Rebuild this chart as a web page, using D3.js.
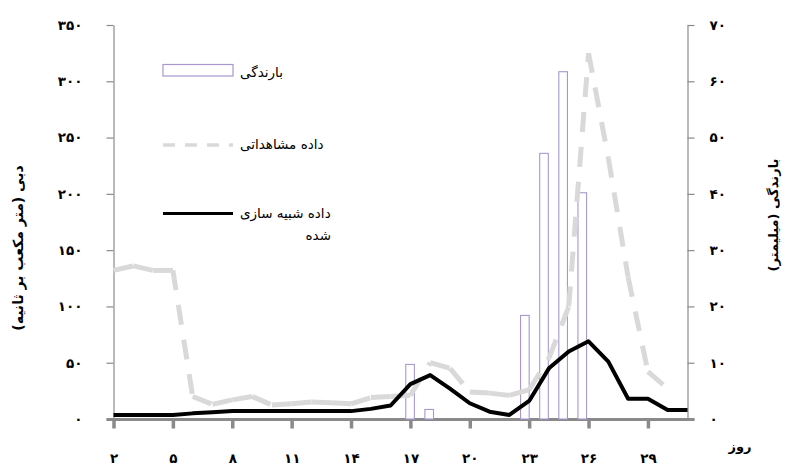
<!DOCTYPE html>
<html><head><meta charset="utf-8">
<script src="https://cdn.jsdelivr.net/npm/d3@7"></script>
<style>
html,body{margin:0;padding:0;background:#fff;}
svg{display:block;font-family:"DejaVu Sans",sans-serif;}
</style></head>
<body>
<script>
// ---- data ----
const days = d3.range(2, 32);                 // day 2 .. 31
const obsDays = d3.range(2, 31);              // observed: day 2 .. 30
const observed = [132,136,132,132,20,13,17,20,12.5,13.5,15,14.5,13.5,19,20,21,50,45,24,23,21,26,54,100,325,232,126,42,27];
const simulated = [3.6,3.6,3.6,3.6,5,6,7,7,7,7,7,7,7,9,12,31,39,27,14,6.5,3.6,16,45,60,69,51,18,18,8,8];
const rainDays = [17,18,23,24,25,26];
const rain = [9.7,1.7,18.4,47.2,61.7,40.2];
const xTicks = [2,5,8,11,14,17,20,23,26,29];
const leftTicks = [0,50,100,150,200,250,300,350];
const rightTicks = [0,10,20,30,40,50,60,70];
const legendLabels = ["بارندگی","داده مشاهداتی","داده شبیه سازی","شده"];
const leftTitle = "دبی (متر مکعب بر ثانیه)";
const rightTitle = "بارندگی (میلیمتر)";
const xTitle = "روز";

const fa = v => String(v).replace(/\d/g, d => "۰۱۲۳۴۵۶۷۸۹"[d]);

const W = 785, H = 470;
const svg = d3.select("body").append("svg").attr("width", W).attr("height", H);

const x = d3.scaleLinear().domain([2, 31]).range([113.5, 687.5]);
const xBand = d3.scaleBand().domain(days).range([113.5, 687.5]).paddingInner(0.55).paddingOuter(0.275);
const y = d3.scaleLinear().domain([0, 350]).range([419, 25]);
const yR = d3.scaleLinear().domain([0, 70]).range([419, 25]);

const axisColor = "#8a8a8a";

// left axis
const gl = svg.append("g").attr("transform", "translate(113.5,0)")
  .call(d3.axisLeft(y).tickValues(leftTicks).tickSize(7).tickSizeOuter(0).tickPadding(24).tickFormat(fa));
// right axis
const gr = svg.append("g").attr("transform", "translate(687.5,0)")
  .call(d3.axisRight(yR).tickValues(rightTicks).tickSize(7).tickSizeOuter(0).tickPadding(15).tickFormat(fa));
[gl, gr].forEach(g => {
  g.select(".domain").attr("stroke", axisColor).attr("stroke-width", 1.2);
  g.selectAll(".tick line").attr("stroke", axisColor).attr("stroke-width", 1.2);
  g.selectAll(".tick text").attr("fill", "#000").attr("font-size", 13.5).attr("font-weight", "bold")
    .attr("font-family", "DejaVu Sans").attr("letter-spacing", 3);
});

// bottom axis
const gx = svg.append("g").attr("transform", "translate(0,419.5)")
  .call(d3.axisBottom(x).tickValues(xTicks).tickSize(9).tickSizeOuter(0).tickPadding(25).tickFormat(fa));
gx.select(".domain").attr("stroke", axisColor).attr("stroke-width", 3)
  .attr("d", `M${x.range()[0] - 7},0H${x.range()[1] + 7}`);
gx.selectAll(".tick line").attr("stroke", axisColor).attr("stroke-width", 3.5);
gx.selectAll(".tick text").attr("fill", "#000").attr("font-size", 13.5).attr("font-weight", "bold")
  .attr("font-family", "DejaVu Sans").attr("letter-spacing", 3);

// rain bars
svg.append("g").selectAll("rect").data(rainDays.map((d, i) => ({d, v: rain[i]})))
  .join("rect")
  .attr("x", p => xBand(p.d)).attr("width", xBand.bandwidth())
  .attr("y", p => yR(p.v)).attr("height", p => yR(0) - yR(p.v))
  .attr("fill", "#fff").attr("stroke", "#a898cf").attr("stroke-width", 1.1);

// observed (dash pattern restarts at each vertex)
const obsPts = obsDays.map((d, i) => [x(d), y(observed[i])]);
const line = d3.line();
svg.append("g").selectAll("path").data(d3.pairs(obsPts)).join("path")
  .attr("d", p => line(p)).attr("fill", "none")
  .attr("stroke", "#d9d9d9").attr("stroke-width", 5)
  .attr("stroke-dasharray", "20,15").attr("stroke-linecap", "butt");

// simulated
svg.append("path").datum(days.map((d, i) => [x(d), y(simulated[i])]))
  .attr("d", line).attr("fill", "none").attr("stroke", "#000")
  .attr("stroke-width", 4).attr("stroke-linejoin", "round");

// legend
const lg = svg.append("g").attr("font-size", 13.5).attr("font-family", "DejaVu Sans");
lg.append("rect").attr("x", 163).attr("y", 64.5).attr("width", 70).attr("height", 11.5)
  .attr("fill", "#fff").attr("stroke", "#a898cf").attr("stroke-width", 1.2);
lg.append("line").attr("x1", 163).attr("x2", 233).attr("y1", 145).attr("y2", 145)
  .attr("stroke", "#d9d9d9").attr("stroke-width", 3.5).attr("stroke-dasharray", "12,10");
lg.append("line").attr("x1", 163).attr("x2", 233).attr("y1", 213.5).attr("y2", 213.5)
  .attr("stroke", "#000").attr("stroke-width", 3);
lg.append("text").attr("x", 240).attr("y", 77).text(legendLabels[0]);
lg.append("text").attr("x", 240).attr("y", 149).text(legendLabels[1]);
lg.append("text").attr("x", 240).attr("y", 218).text(legendLabels[2]);
lg.append("text").attr("x", 331).attr("y", 240).attr("text-anchor", "end").text(legendLabels[3]);

// axis titles
svg.append("text").attr("transform", "translate(18,248) rotate(-90)")
  .attr("text-anchor", "middle").attr("dominant-baseline", "central")
  .attr("font-size", 14).attr("font-weight", "bold").text(leftTitle);
svg.append("text").attr("transform", "translate(773,215) rotate(-90)")
  .attr("text-anchor", "middle").attr("dominant-baseline", "central")
  .attr("font-size", 13).attr("font-weight", "bold").text(rightTitle);
svg.append("text").attr("x", 740).attr("y", 446).attr("text-anchor", "middle")
  .attr("dominant-baseline", "central").attr("font-size", 13).attr("font-weight", "bold").text(xTitle);
</script>
</body></html>
